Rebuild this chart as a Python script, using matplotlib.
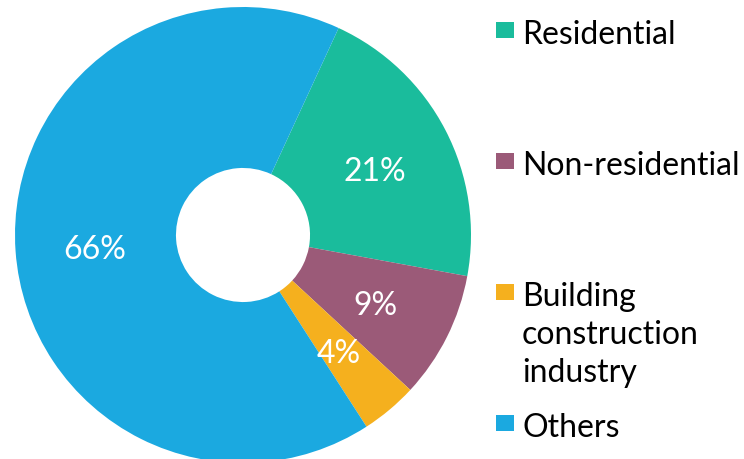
import matplotlib.pyplot as plt
from matplotlib.patches import Rectangle

# Datos
categorias = ["Residential", "Non-residential", "Building\nconstruction\nindustry", "Others"]
valores = [21, 9, 4, 66]
colores = ["#1ABC9C", "#9B5A78", "#F5B01E", "#1BA9E0"]

plt.rcParams["font.family"] = ["Lato", "DejaVu Sans"]

W, H = 744, 460
fig = plt.figure(figsize=(W / 100, H / 100), dpi=100)
ax = fig.add_axes([0, 0, 1, 1])

# Donut en coordenadas de píxel: centro (243, 236), radio 228
cx, cy, R = 243, 236, 228
wedges, textos, pcts = ax.pie(
    valores,
    colors=colores,
    startangle=65.2,
    counterclock=False,
    radius=1,
    wedgeprops=dict(width=0.706, linewidth=0),
    autopct=lambda p: f"{p:.0f}%",
    pctdistance=0.65,
    textprops=dict(color="white", fontsize=23),
)
# bajar un poco las etiquetas
for t in pcts:
    x, y = t.get_position()
    t.set_position((x, y - 4 / R))

ax.set_xlim(-cx / R, (W - cx) / R)
ax.set_ylim(-(H - cy) / R, cy / R)
ax.set_aspect("auto")
ax.axis("off")

# Leyenda manual
for i, (cat, col) in enumerate(zip(categorias, colores)):
    yc = 31 + 131 * i
    fig.patches.append(Rectangle((496 / W, 1 - (yc + 8) / H), 18 / W, 16 / H,
                                 transform=fig.transFigure, facecolor=col,
                                 edgecolor="none"))
    fig.text(522 / W, 1 - (yc - 11) / H, cat, fontsize=23, color="black",
             va="top", ha="left", linespacing=1.34)

fig.savefig("out.png", dpi=100)
